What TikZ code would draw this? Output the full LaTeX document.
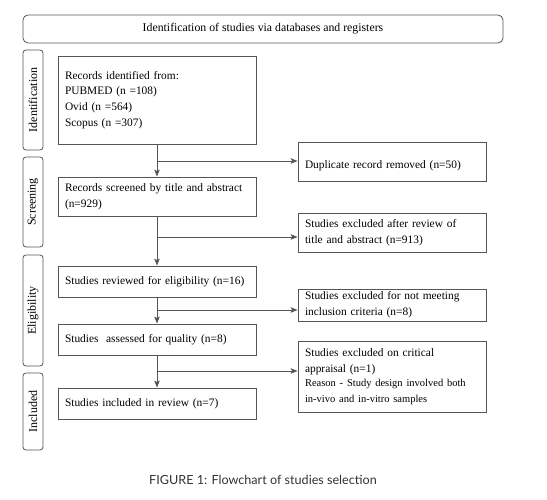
\documentclass[tikz,border=0pt]{standalone}
\usepackage{fontspec}
\setmainfont{Liberation Serif}
\newfontfamily\capfont{Lato}
\usetikzlibrary{arrows.meta}
\definecolor{lc}{HTML}{555555}
\tikzset{
  x=1pt,y=-1pt,
  box/.style={draw=lc,line width=0.8pt,rectangle,inner xsep=7pt,inner ysep=2pt,align=left,
    font=\fontsize{11.4}{15.6}\selectfont,anchor=center},
  lbox/.style={box,minimum width=198pt,text width=184pt},
  rbox/.style={box,minimum width=188pt,text width=174pt},
  side/.style={draw=lc,line width=0.8pt,rounded corners=3pt,minimum height=20pt,rotate=90,
    font=\fontsize{12}{13}\selectfont,inner sep=0pt},
  flow/.style={draw=lc,line width=0.9pt,-{Stealth[length=7pt,width=5.5pt,inset=1.5pt]}},
}
\begin{document}
\begin{tikzpicture}
\useasboundingbox (0,0) rectangle (547,500);
\node[draw=lc,line width=0.8pt,rounded corners=5pt,minimum width=480pt,minimum height=28pt,
  font=\fontsize{11.8}{13}\selectfont] (title) at (263,29) {Identification of studies via databases and registers};
% side labels
\node[side,minimum width=100pt] (sid) at (33,100) {Identification};
\node[side,minimum width=90pt] (ssc) at (33,202) {Screening};
\node[side,minimum width=111pt] (sel) at (33,310.5) {Eligibility};
\node[side,minimum width=77pt] (sin) at (33,411.5) {Included};
% left boxes
\node[lbox,minimum height=88pt] (rec) at (157,100) {Records identified from:\\PUBMED (n =108)\\Ovid (n =564)\\Scopus (n =307)};
\node[lbox,minimum height=39pt] (scr) at (157,196.5) {Records screened by title and abstract\\(n=929)};
\node[lbox,minimum height=31pt] (rev) at (157,281.5) {Studies reviewed for eligibility (n=16)};
\node[lbox,minimum height=31pt] (ass) at (157,339.5) {Studies\ \ assessed for quality (n=8)};
\node[lbox,minimum height=31pt] (inc) at (157,403.5) {Studies included in review (n=7)};
% right boxes
\node[rbox,minimum height=39pt] (dup) at (392,161.5) {\mbox{}\\Duplicate record removed (n=50)};
\node[rbox,minimum height=39pt] (ex1) at (392,232.5) {Studies excluded after review of\\title and abstract (n=913)};
\node[rbox,minimum height=32pt] (ex2) at (392,305) {Studies excluded for not meeting\\inclusion criteria (n=8)};
\node[rbox,minimum height=71pt] (ex3) at (392,376.5) {Studies excluded on critical\\appraisal (n=1)\\{\fontsize{10.5}{14.5}\selectfont Reason - Study design involved both\\in-vivo and in-vitro samples}};
% vertical flow
\draw[flow] (rec) -- (scr);
\draw[flow] (scr) -- (rev);
\draw[flow] (rev) -- (ass);
\draw[flow] (ass) -- (inc);
% branches
\coordinate (b1) at (157,161);
\coordinate (b2) at (157,237);
\coordinate (b3) at (157,310);
\coordinate (b4) at (157,371);
\draw[flow] (b1) -- (b1 -| dup.west);
\draw[flow] (b2) -- (b2 -| ex1.west);
\draw[flow] (b3) -- (b3 -| ex2.west);
\draw[flow] (b4) -- (b4 -| ex3.west);
\node[font=\capfont\fontsize{12.6}{14}\selectfont,text=black!80] (cap) at (263,480) {FIGURE 1: Flowchart of studies selection};
\end{tikzpicture}
\end{document}
